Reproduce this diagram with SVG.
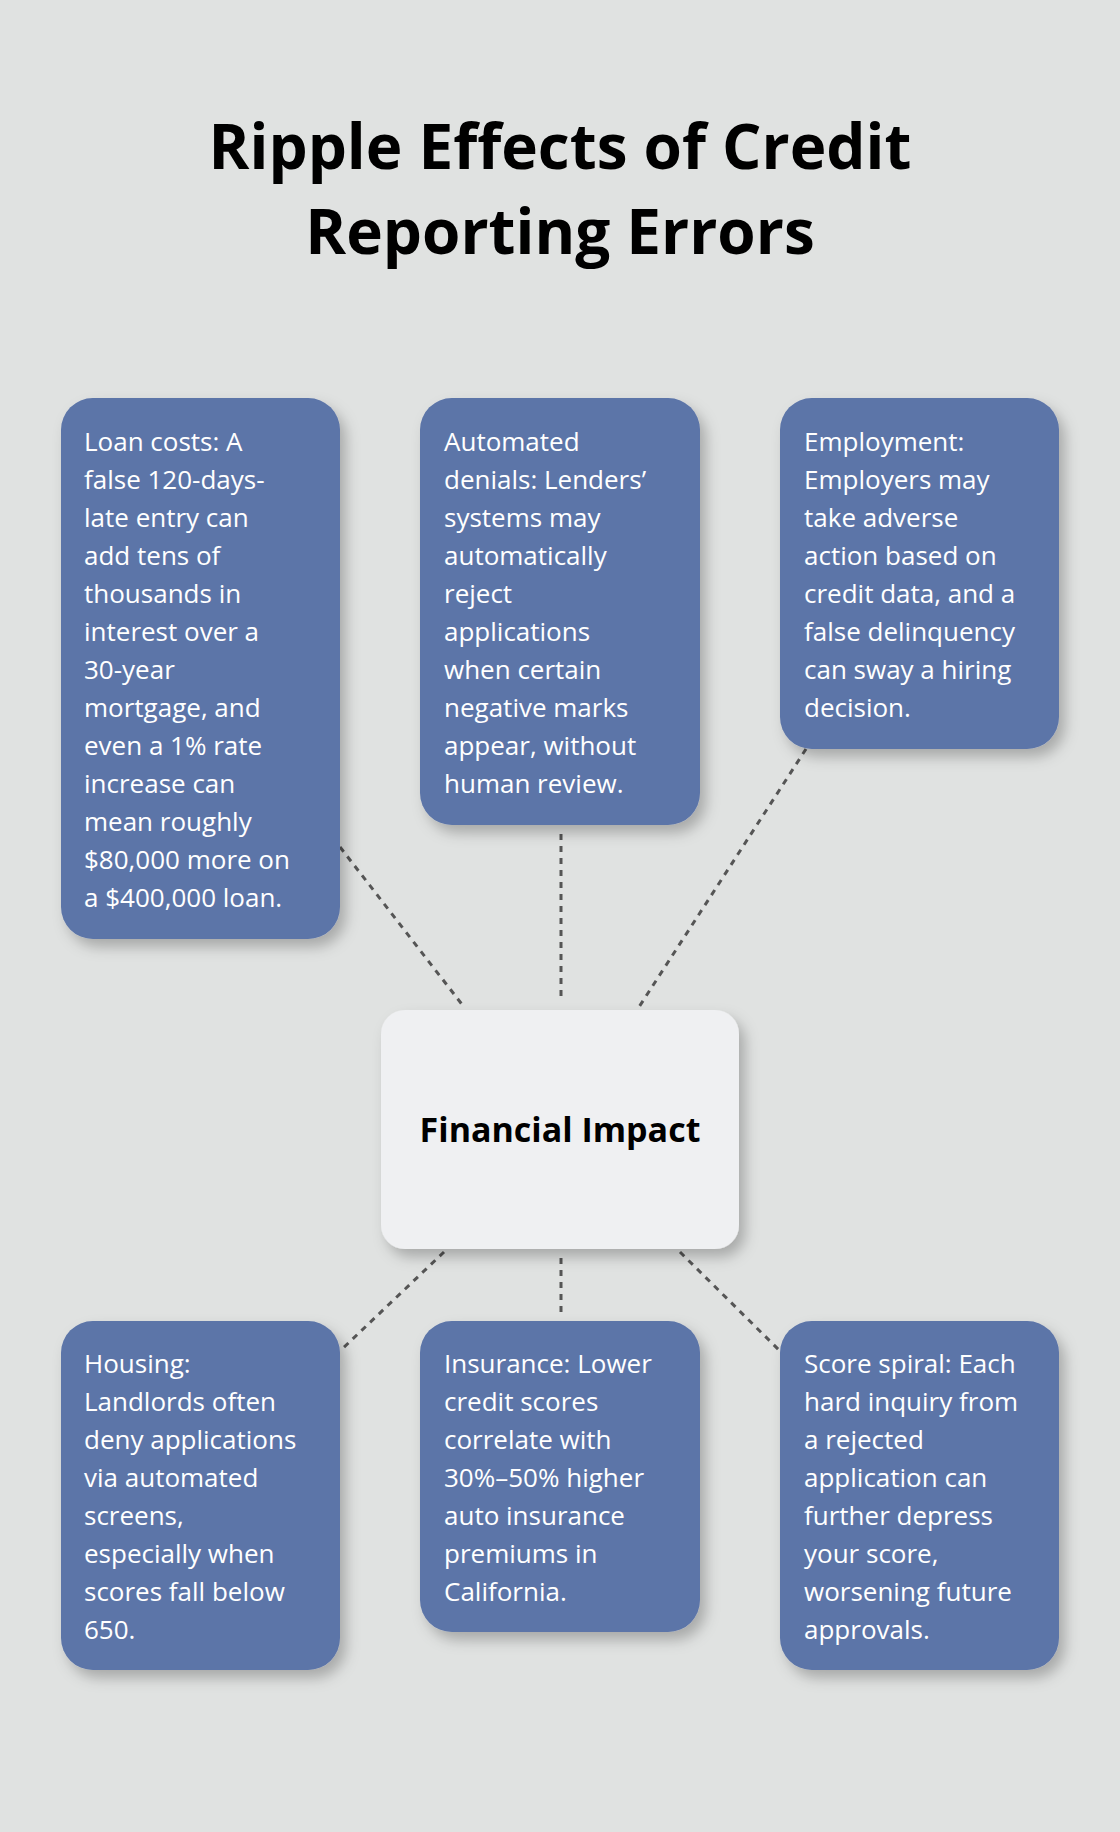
<svg xmlns="http://www.w3.org/2000/svg" width="1120" height="1832" viewBox="0 0 1120 1832">
<defs>
<filter id="sh" x="-20%" y="-20%" width="140%" height="140%"><feDropShadow dx="6" dy="8" stdDeviation="7" flood-color="#000" flood-opacity="0.25"/></filter>
<style>
.b{fill:#5b74a8;filter:url(#sh)}
.t{font-family:"Open Sans","Noto Sans",sans-serif;font-size:26px;fill:#fff}
.c{stroke:#555;stroke-width:3;stroke-dasharray:6 6;fill:none}
</style>
</defs>
<rect width="1120" height="1832" fill="#e0e2e1"/>
<g id="title" font-family="'Open Sans','Noto Sans',sans-serif" font-weight="bold" font-size="62" text-anchor="middle" fill="#000">
<text x="560" y="169">Ripple Effects of Credit</text>
<text x="560" y="254">Reporting Errors</text>
</g>
<g id="connectors">
<line class="c" x1="340" y1="847" x2="464" y2="1007"/>
<line class="c" x1="561" y1="834" x2="561" y2="1002"/>
<line class="c" x1="806" y1="749" x2="639" y2="1007"/>
<line class="c" x1="444" y1="1252" x2="340" y2="1351"/>
<line class="c" x1="561" y1="1258" x2="561" y2="1318"/>
<line class="c" x1="680" y1="1252" x2="780" y2="1351"/>
</g>
<g id="center">
<rect x="381" y="1010" width="358" height="239" rx="24" fill="#eff0f2" filter="url(#sh)"/>
<text x="560" y="1142" text-anchor="middle" font-family="'Open Sans','Noto Sans',sans-serif" font-weight="bold" font-size="34" fill="#000">Financial Impact</text>
</g>
<g id="loan">
<rect class="b" x="61" y="398" width="279" height="541" rx="32"/>
<text class="t" x="84" y="451"><tspan x="84">Loan costs: A</tspan><tspan x="84" dy="38">false 120-days-</tspan><tspan x="84" dy="38">late entry can</tspan><tspan x="84" dy="38">add tens of</tspan><tspan x="84" dy="38">thousands in</tspan><tspan x="84" dy="38">interest over a</tspan><tspan x="84" dy="38">30-year</tspan><tspan x="84" dy="38">mortgage, and</tspan><tspan x="84" dy="38">even a 1% rate</tspan><tspan x="84" dy="38">increase can</tspan><tspan x="84" dy="38">mean roughly</tspan><tspan x="84" dy="38">$80,000 more on</tspan><tspan x="84" dy="38">a $400,000 loan.</tspan></text>
</g>
<g id="denials">
<rect class="b" x="420" y="398" width="280" height="427" rx="32"/>
<text class="t" x="444" y="451"><tspan x="444">Automated</tspan><tspan x="444" dy="38">denials: Lenders’</tspan><tspan x="444" dy="38">systems may</tspan><tspan x="444" dy="38">automatically</tspan><tspan x="444" dy="38">reject</tspan><tspan x="444" dy="38">applications</tspan><tspan x="444" dy="38">when certain</tspan><tspan x="444" dy="38">negative marks</tspan><tspan x="444" dy="38">appear, without</tspan><tspan x="444" dy="38">human review.</tspan></text>
</g>
<g id="employment">
<rect class="b" x="780" y="398" width="279" height="351" rx="32"/>
<text class="t" x="804" y="451"><tspan x="804">Employment:</tspan><tspan x="804" dy="38">Employers may</tspan><tspan x="804" dy="38">take adverse</tspan><tspan x="804" dy="38">action based on</tspan><tspan x="804" dy="38">credit data, and a</tspan><tspan x="804" dy="38">false delinquency</tspan><tspan x="804" dy="38">can sway a hiring</tspan><tspan x="804" dy="38">decision.</tspan></text>
</g>
<g id="housing">
<rect class="b" x="61" y="1321" width="279" height="349" rx="32"/>
<text class="t" x="84" y="1373"><tspan x="84">Housing:</tspan><tspan x="84" dy="38">Landlords often</tspan><tspan x="84" dy="38">deny applications</tspan><tspan x="84" dy="38">via automated</tspan><tspan x="84" dy="38">screens,</tspan><tspan x="84" dy="38">especially when</tspan><tspan x="84" dy="38">scores fall below</tspan><tspan x="84" dy="38">650.</tspan></text>
</g>
<g id="insurance">
<rect class="b" x="420" y="1321" width="280" height="311" rx="32"/>
<text class="t" x="444" y="1373"><tspan x="444">Insurance: Lower</tspan><tspan x="444" dy="38">credit scores</tspan><tspan x="444" dy="38">correlate with</tspan><tspan x="444" dy="38">30%–50% higher</tspan><tspan x="444" dy="38">auto insurance</tspan><tspan x="444" dy="38">premiums in</tspan><tspan x="444" dy="38">California.</tspan></text>
</g>
<g id="spiral">
<rect class="b" x="780" y="1321" width="279" height="349" rx="32"/>
<text class="t" x="804" y="1373"><tspan x="804">Score spiral: Each</tspan><tspan x="804" dy="38">hard inquiry from</tspan><tspan x="804" dy="38">a rejected</tspan><tspan x="804" dy="38">application can</tspan><tspan x="804" dy="38">further depress</tspan><tspan x="804" dy="38">your score,</tspan><tspan x="804" dy="38">worsening future</tspan><tspan x="804" dy="38">approvals.</tspan></text>
</g>
</svg>
